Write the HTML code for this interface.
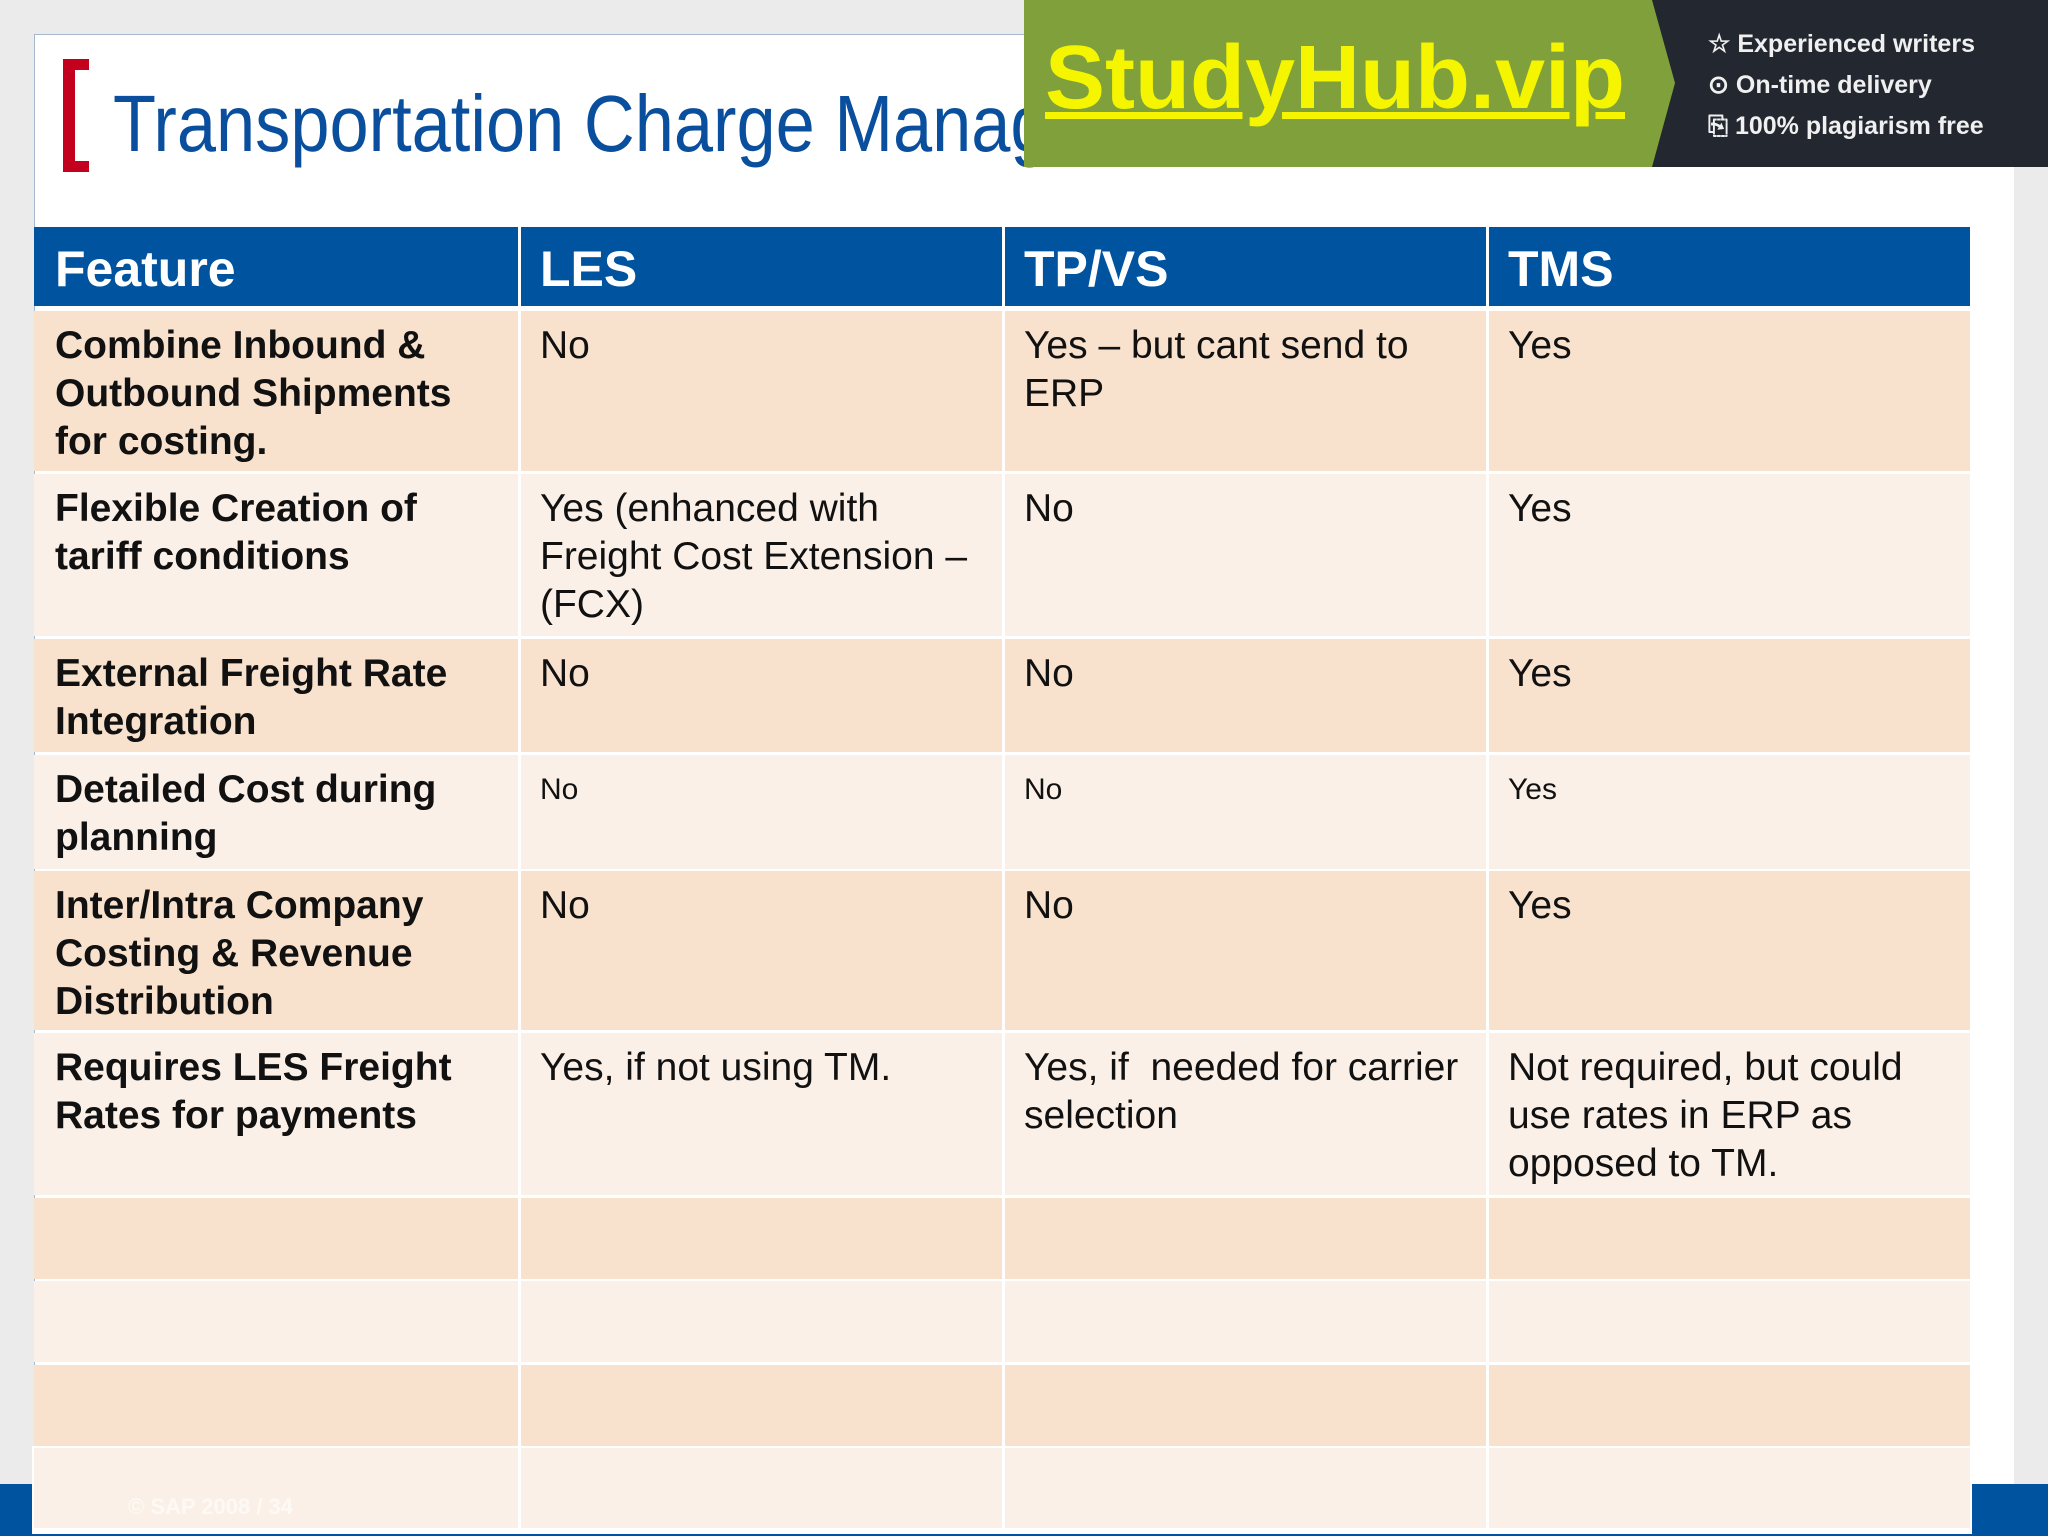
<!DOCTYPE html>
<html><head><meta charset="utf-8"><style>
body{margin:0;width:2048px;height:1536px;background:#ebebeb;position:relative;overflow:hidden;font-family:"Liberation Sans",Arial,sans-serif}
.abs{position:absolute}
.cell{position:absolute;box-sizing:border-box;padding:11px 21px 0 19px;font-size:39px;line-height:48px;color:#111}
.h{background:#00539f;color:#fff;font-weight:bold;font-size:50px;line-height:60px;padding-top:12px}
.o{background:#f8e2cd}.e{background:#fbf0e7}
.b{font-weight:bold;padding-left:21px}
.sm{font-size:30px;line-height:40px;padding-top:15px}
</style></head><body>
<div class="abs" style="left:34px;top:34px;width:1979px;height:1450px;background:#fff;border-left:1px solid #a5b8cc;border-top:1px solid #a5b8cc"></div>
<div class="abs" style="left:0;top:1484px;width:2048px;height:52px;background:#00539f"></div>
<div class="abs" style="left:63px;top:59px;width:12px;height:113px;background:#c4001f"></div>
<div class="abs" style="left:63px;top:59px;width:26px;height:11px;background:#c4001f"></div>
<div class="abs" style="left:63px;top:161px;width:26px;height:11px;background:#c4001f"></div>
<div class="abs" style="left:113px;top:74px;font-size:80px;line-height:100px;color:#0a4f9e;white-space:nowrap;transform:scaleX(0.88);transform-origin:left top">Transportation Charge Management</div>

<div class="abs" style="left:1024px;top:0;width:1024px;height:167px;background:#232830"></div>
<svg class="abs" style="left:1024px;top:0" width="652" height="167"><polygon points="0,0 628,0 651,83 628,167 0,167" fill="#7fa03a"/></svg>
<div class="abs" style="left:1045px;top:28px;font-size:90px;line-height:100px;font-weight:bold;color:#f5f500;text-decoration:underline;text-decoration-thickness:7px;transform:scaleX(1.0);transform-origin:left top;white-space:nowrap">StudyHub.vip</div>
<div class="abs" style="left:1708px;top:24px;color:#f0f0f0;font-weight:bold;font-size:25px;line-height:41px;white-space:nowrap">☆ Experienced writers<br>⊙ On-time delivery<br>⎘ 100% plagiarism free</div>

<div>
<div class="cell h b" style="left:34px;top:227px;width:484px;height:79px">Feature</div>
<div class="cell h" style="left:521px;top:227px;width:481px;height:79px">LES</div>
<div class="cell h" style="left:1005px;top:227px;width:481px;height:79px">TP/VS</div>
<div class="cell h" style="left:1489px;top:227px;width:481px;height:79px">TMS</div>

<div class="cell o b" style="left:34px;top:311px;width:484px;height:160px">Combine Inbound &amp; Outbound Shipments for costing.</div>
<div class="cell o" style="left:521px;top:311px;width:481px;height:160px">No</div>
<div class="cell o" style="left:1005px;top:311px;width:481px;height:160px">Yes – but cant send to ERP</div>
<div class="cell o" style="left:1489px;top:311px;width:481px;height:160px">Yes</div>

<div class="cell e b" style="left:34px;top:474px;width:484px;height:162px">Flexible Creation of tariff conditions</div>
<div class="cell e" style="left:521px;top:474px;width:481px;height:162px">Yes (enhanced with Freight Cost Extension – (FCX)</div>
<div class="cell e" style="left:1005px;top:474px;width:481px;height:162px">No</div>
<div class="cell e" style="left:1489px;top:474px;width:481px;height:162px">Yes</div>

<div class="cell o b" style="left:34px;top:639px;width:484px;height:113px">External Freight Rate Integration</div>
<div class="cell o" style="left:521px;top:639px;width:481px;height:113px">No</div>
<div class="cell o" style="left:1005px;top:639px;width:481px;height:113px">No</div>
<div class="cell o" style="left:1489px;top:639px;width:481px;height:113px">Yes</div>

<div class="cell e b" style="left:34px;top:755px;width:484px;height:114px">Detailed Cost during planning</div>
<div class="cell e sm" style="left:521px;top:755px;width:481px;height:114px">No</div>
<div class="cell e sm" style="left:1005px;top:755px;width:481px;height:114px">No</div>
<div class="cell e sm" style="left:1489px;top:755px;width:481px;height:114px">Yes</div>

<div class="cell o b" style="left:34px;top:871px;width:484px;height:159px">Inter/Intra Company Costing &amp; Revenue Distribution</div>
<div class="cell o" style="left:521px;top:871px;width:481px;height:159px">No</div>
<div class="cell o" style="left:1005px;top:871px;width:481px;height:159px">No</div>
<div class="cell o" style="left:1489px;top:871px;width:481px;height:159px">Yes</div>

<div class="cell e b" style="left:34px;top:1033px;width:484px;height:162px">Requires LES Freight Rates for payments</div>
<div class="cell e" style="left:521px;top:1033px;width:481px;height:162px">Yes, if not using TM.</div>
<div class="cell e" style="left:1005px;top:1033px;width:481px;height:162px">Yes, if &nbsp;needed for carrier selection</div>
<div class="cell e" style="left:1489px;top:1033px;width:481px;height:162px">Not required, but could use rates in ERP as opposed to TM.</div>

<div class="cell o" style="left:34px;top:1198px;width:484px;height:81px"></div>
<div class="cell o" style="left:521px;top:1198px;width:481px;height:81px"></div>
<div class="cell o" style="left:1005px;top:1198px;width:481px;height:81px"></div>
<div class="cell o" style="left:1489px;top:1198px;width:481px;height:81px"></div>

<div class="cell e" style="left:34px;top:1281px;width:484px;height:81px"></div>
<div class="cell e" style="left:521px;top:1281px;width:481px;height:81px"></div>
<div class="cell e" style="left:1005px;top:1281px;width:481px;height:81px"></div>
<div class="cell e" style="left:1489px;top:1281px;width:481px;height:81px"></div>

<div class="cell o" style="left:34px;top:1365px;width:484px;height:81px"></div>
<div class="cell o" style="left:521px;top:1365px;width:481px;height:81px"></div>
<div class="cell o" style="left:1005px;top:1365px;width:481px;height:81px"></div>
<div class="cell o" style="left:1489px;top:1365px;width:481px;height:81px"></div>

<div class="abs" style="left:32px;top:1446px;width:1940px;height:88px;background:#fff"></div>
<div class="cell e" style="left:34px;top:1448px;width:484px;height:80px"></div>
<div class="cell e" style="left:521px;top:1448px;width:481px;height:80px"></div>
<div class="cell e" style="left:1005px;top:1448px;width:481px;height:80px"></div>
<div class="cell e" style="left:1489px;top:1448px;width:481px;height:80px"></div>
</div>
<div class="abs" style="left:128px;top:1494px;font-size:22px;font-weight:bold;color:#fff;opacity:0.6">© SAP 2008 / 34</div>
</body></html>
